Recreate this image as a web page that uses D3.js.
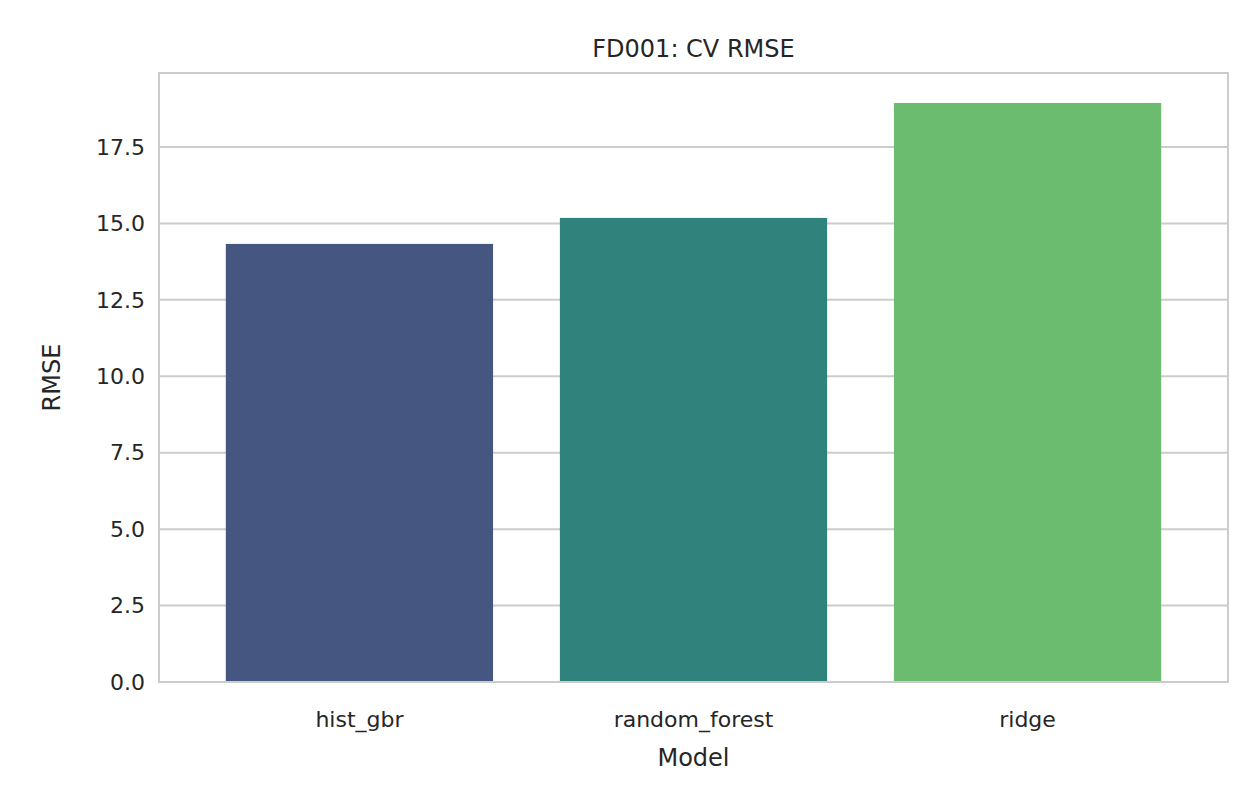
<!DOCTYPE html>
<html>
<head>
<meta charset="utf-8">
<script src="https://cdn.jsdelivr.net/npm/d3@7"></script>
<style>
body { margin: 0; background: #fff; }
text { font-family: "DejaVu Sans", sans-serif; fill: #262626; }
</style>
</head>
<body>
<svg width="1260" height="810"></svg>
<script>
const models = ['hist_gbr', 'random_forest', 'ridge']
const rmse = [14.33, 15.18, 18.94]
const colors = ['#455681', '#2f837c', '#6bbc6e']
const yTicks = [0, 2.5, 5, 7.5, 10, 12.5, 15, 17.5]

const svg = d3.select('svg')
const mLeft = 159, mRight = 1228, mTop = 73, mBottom = 682
const width = mRight - mLeft
const height = mBottom - mTop

const chart = svg.append('g').attr('transform', `translate(${mLeft}, ${mTop})`)

const xScale = d3.scaleBand().range([0, width]).domain(models).padding(0.2)
const yScale = d3.scaleLinear().range([height, 0]).domain([0, 19.92])

// grid
chart.selectAll('.grid').data(yTicks).enter().append('line')
    .attr('x1', 0).attr('x2', width)
    .attr('y1', d => yScale(d)).attr('y2', d => yScale(d))
    .attr('stroke', '#cccccc').attr('stroke-width', 2)

chart.selectAll('.bar').data(models).enter().append('rect')
    .attr('x', d => xScale(d))
    .attr('y', (d, i) => yScale(rmse[i]))
    .attr('width', xScale.bandwidth())
    .attr('height', (d, i) => height - yScale(rmse[i]))
    .attr('fill', (d, i) => colors[i])

chart.append('rect')
    .attr('width', width).attr('height', height)
    .attr('fill', 'none').attr('stroke', '#cccccc').attr('stroke-width', 2)

chart.selectAll('.ytick').data(yTicks).enter().append('text')
    .attr('x', -14).attr('y', d => yScale(d)).attr('dy', '0.35em')
    .attr('text-anchor', 'end').attr('font-size', 22)
    .text(d => d.toFixed(1))

chart.selectAll('.xtick').data(models).enter().append('text')
    .attr('x', d => xScale(d) + xScale.bandwidth() / 2)
    .attr('y', height + 45).attr('text-anchor', 'middle').attr('font-size', 22)
    .text(d => d)

svg.append('text').attr('x', mLeft + width / 2).attr('y', 766)
    .attr('text-anchor', 'middle').attr('font-size', 24).text('Model')

svg.append('text').attr('transform', `translate(60, ${mTop + height / 2}) rotate(-90)`)
    .attr('text-anchor', 'middle').attr('font-size', 24).text('RMSE')

svg.append('text').attr('x', mLeft + width / 2).attr('y', 57)
    .attr('text-anchor', 'middle').attr('font-size', 24).text('FD001: CV RMSE')
</script>
</body>
</html>
